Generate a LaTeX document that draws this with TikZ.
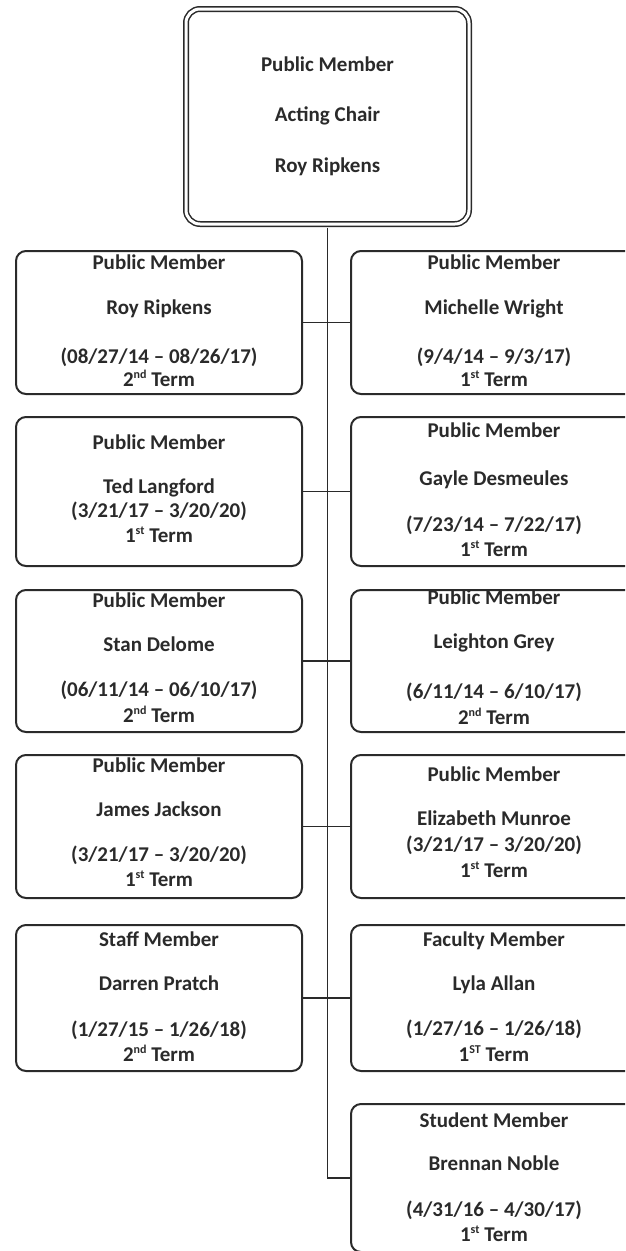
\documentclass[tikz,border=0pt]{standalone}
\usepackage{fontspec}
\setmainfont{Carlito}
\definecolor{ink}{HTML}{2A2A2A}
\newcommand\supx[1]{\raisebox{0.75ex}{\fontsize{12}{12}\selectfont #1}}
\tikzset{
  orgbox/.style={draw=ink, line width=2pt, rounded corners=10pt, minimum width=286pt, inner sep=0pt},
  chairbox/.style={draw=ink, line width=1.5pt, double=white, double distance=3pt, rounded corners=14pt,
                   minimum width=283pt, minimum height=215pt, inner sep=0pt},
  txt/.style={font=\fontsize{21}{24}\selectfont\bfseries, text=ink, inner sep=0pt, anchor=mid},
  link/.style={draw=ink, line width=1.9pt}
}
\begin{document}
\begin{tikzpicture}[x=1pt,y=-1pt]
\useasboundingbox (0,0) rectangle (625,1251);
\clip (0,0) rectangle (625,1251);

% top box
\node[chairbox] (top) at (327.5,116.5) {};
\node[txt] (topa) at (327.5,69) {Public Member};
\node[txt] (topb) at (327.5,119) {Acting Chair};
\node[txt] (topc) at (327.5,170) {Roy Ripkens};

% row 1
\node[orgbox, minimum height=143pt] (L1) at (159,322.5) {};
\node[orgbox, minimum height=143pt] (R1) at (494,322.5) {};
\node[txt] (L1a) at (159,267) {Public Member};
\node[txt] (L1b) at (159,312) {Roy Ripkens};
\node[txt] (L1c) at (159,361) {(08/27/14 – 08/26/17)};
\node[txt] (L1d) at (159,384) {2\supx{nd} Term};
\node[txt] (R1a) at (494,267) {Public Member};
\node[txt] (R1b) at (494,312) {Michelle Wright};
\node[txt] (R1c) at (494,361) {(9/4/14 – 9/3/17)};
\node[txt] (R1d) at (494,384) {1\supx{st} Term};

% row 2
\node[orgbox, minimum height=149pt] (L2) at (159,491.5) {};
\node[orgbox, minimum height=149pt] (R2) at (494,491.5) {};
\node[txt] (L2a) at (159,447) {Public Member};
\node[txt] (L2b) at (159,491) {Ted Langford};
\node[txt] (L2c) at (159,515) {(3/21/17 – 3/20/20)};
\node[txt] (L2d) at (159,540) {1\supx{st} Term};
\node[txt] (R2a) at (494,435) {Public Member};
\node[txt] (R2b) at (494,483) {Gayle Desmeules};
\node[txt] (R2c) at (494,529) {(7/23/14 – 7/22/17)};
\node[txt] (R2d) at (494,554) {1\supx{st} Term};

% row 3
\node[orgbox, minimum height=142pt] (L3) at (159,661) {};
\node[orgbox, minimum height=142pt] (R3) at (494,661) {};
\node[txt] (L3a) at (159,605) {Public Member};
\node[txt] (L3b) at (159,649) {Stan Delome};
\node[txt] (L3c) at (159,694) {(06/11/14 – 06/10/17)};
\node[txt] (L3d) at (159,720) {2\supx{nd} Term};
\node[txt] (R3a) at (494,602) {Public Member};
\node[txt] (R3b) at (494,646) {Leighton Grey};
\node[txt] (R3c) at (494,696) {(6/11/14 – 6/10/17)};
\node[txt] (R3d) at (494,722) {2\supx{nd} Term};

% row 4
\node[orgbox, minimum height=143pt] (L4) at (159,826.5) {};
\node[orgbox, minimum height=143pt] (R4) at (494,826.5) {};
\node[txt] (L4a) at (159,770) {Public Member};
\node[txt] (L4b) at (159,814) {James Jackson};
\node[txt] (L4c) at (159,859) {(3/21/17 – 3/20/20)};
\node[txt] (L4d) at (159,884) {1\supx{st} Term};
\node[txt] (R4a) at (494,779) {Public Member};
\node[txt] (R4b) at (494,823) {Elizabeth Munroe};
\node[txt] (R4c) at (494,849) {(3/21/17 – 3/20/20)};
\node[txt] (R4d) at (494,875) {1\supx{st} Term};

% row 5
\node[orgbox, minimum height=146pt] (L5) at (159,998) {};
\node[orgbox, minimum height=146pt] (R5) at (494,998) {};
\node[txt] (L5a) at (159,944) {Staff Member};
\node[txt] (L5b) at (159,988) {Darren Pratch};
\node[txt] (L5c) at (159,1034) {(1/27/15 – 1/26/18)};
\node[txt] (L5d) at (159,1059) {2\supx{nd} Term};
\node[txt] (R5a) at (494,944) {Faculty Member};
\node[txt] (R5b) at (494,988) {Lyla Allan};
\node[txt] (R5c) at (494,1033) {(1/27/16 – 1/26/18)};
\node[txt] (R5d) at (494,1059) {1\supx{ST} Term};

% row 6
\node[orgbox, minimum height=148pt] (R6) at (494,1178) {};
\node[txt] (R6a) at (494,1125) {Student Member};
\node[txt] (R6b) at (494,1168) {Brennan Noble};
\node[txt] (R6c) at (494,1214) {(4/31/16 – 4/30/17)};
\node[txt] (R6d) at (494,1239) {1\supx{st} Term};

% connectors
\coordinate (bend) at (top.south |- R6.west);
\draw[link, shorten <=3pt] (top.south) -- (bend) -- (R6.west);
\draw[link] (L1.east) -- (L1.east -| R1.west);
\draw[link] (L2.east) -- (L2.east -| R2.west);
\draw[link] (L3.east) -- (L3.east -| R3.west);
\draw[link] (L4.east) -- (L4.east -| R4.west);
\draw[link] (L5.east) -- (L5.east -| R5.west);
\end{tikzpicture}
\end{document}
